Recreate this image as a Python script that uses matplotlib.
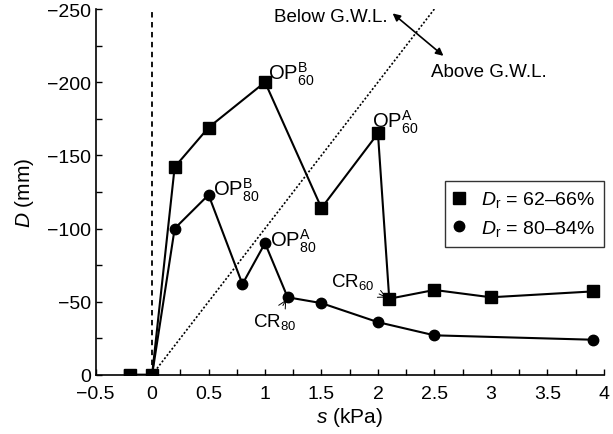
import numpy as np
import matplotlib.pyplot as plt
from matplotlib.ticker import MultipleLocator

plt.rcParams['font.family'] = ['Liberation Sans', 'DejaVu Sans']
plt.rcParams['mathtext.fontset'] = 'custom'
plt.rcParams['mathtext.rm'] = 'Liberation Sans'
plt.rcParams['mathtext.it'] = 'Liberation Sans:italic'

# Dr = 62-66 %
s_60 = [-0.2, 0.0, 0.2, 0.5, 1.0, 1.5, 2.0, 2.1, 2.5, 3.0, 3.9]
d_60 = [0, 0, -142, -169, -200, -114, -165, -52, -58, -53, -57]
# Dr = 80-84 %
s_80 = [-0.2, 0.0, 0.2, 0.5, 0.8, 1.0, 1.2, 1.5, 2.0, 2.5, 3.9]
d_80 = [0, 0, -100, -123, -62, -90, -53, -49, -36, -27, -24]
# G.W.L. boundary line
gwl_s = [0.0, 2.5]
gwl_d = [0, -250]

fig = plt.figure(figsize=(6.13, 4.35), dpi=100)
ax = fig.add_axes([0.156, 0.136, 0.829, 0.841])

ax.plot([0, 0], [0, -250], color='black', ls=(0, (3, 2.5)), lw=1.3)
ax.plot(gwl_s, gwl_d, color='black', ls=(0, (1.2, 1.2)), lw=1.2)

ax.plot(s_60, d_60, '-s', color='black', lw=1.5, ms=9, label=r'$D_{\mathrm{r}}$ = 62–66%')
ax.plot(s_80, d_80, '-o', color='black', lw=1.5, ms=7.5, label=r'$D_{\mathrm{r}}$ = 80–84%')

ax.set_xlim(-0.5, 4)
ax.set_ylim(0, -250)
ax.xaxis.set_minor_locator(MultipleLocator(0.25))
ax.yaxis.set_minor_locator(MultipleLocator(25))
ax.set_xticks(np.arange(-0.5, 4.01, 0.5))
ax.set_xticklabels(['−0.5', '0', '0.5', '1', '1.5', '2', '2.5', '3', '3.5', '4'])
ax.set_yticks([0, -50, -100, -150, -200, -250])
ax.set_yticklabels(['0', '−50', '−100', '−150', '−200', '−250'])
ax.tick_params(which='both', direction='in', labelsize=14, width=1, length=4)
ax.tick_params(axis='x', pad=7.5)
ax.tick_params(axis='y', pad=3.5)
ax.spines['top'].set_visible(False)
ax.spines['right'].set_visible(False)
ax.spines['left'].set_linewidth(1.2)
ax.spines['bottom'].set_linewidth(1.2)

ax.set_xlabel(r'$s$ (kPa)', fontsize=15, labelpad=2)
ax.set_ylabel(r'$D$ (mm)', fontsize=15, labelpad=8)

lbl = dict(fontsize=14.5, va='center', ha='left')
ax.text(1.03, -206, r'OP$_{60}^{\mathrm{B}}$', **lbl)
ax.text(0.54, -127, r'OP$_{80}^{\mathrm{B}}$', **lbl)
ax.text(1.95, -173, r'OP$_{60}^{\mathrm{A}}$', **lbl)
ax.text(1.04, -92, r'OP$_{80}^{\mathrm{A}}$', **lbl)

ax.annotate(r'CR$_{60}$', xy=(2.1, -52), xytext=(1.58, -64), fontsize=13.5,
            va='center', arrowprops=dict(arrowstyle='->', lw=0.7, color='black'))
ax.annotate(r'CR$_{80}$', xy=(1.2, -53), xytext=(0.89, -37), fontsize=13.5,
            va='center', arrowprops=dict(arrowstyle='->', lw=0.7, color='black'))

ax.text(2.09, -245, 'Below G.W.L.', fontsize=13.5, ha='right', va='center')
ax.text(2.47, -207, 'Above G.W.L.', fontsize=13.5, ha='left', va='center')
ax.annotate('', xy=(2.13, -247), xytext=(2.58, -218),
            arrowprops=dict(arrowstyle='<|-|>', lw=1.2, color='black',
                            mutation_scale=11, shrinkA=0, shrinkB=0))

leg = ax.legend(loc='center right', bbox_to_anchor=(1.0, 0.44), fontsize=14,
                frameon=True, fancybox=False, edgecolor='black',
                handlelength=0.6, handletextpad=0.8, borderpad=0.45,
                labelspacing=0.45, borderaxespad=0.0)
leg.get_frame().set_linewidth(1.0)
for h in leg.legend_handles:
    h.set_linestyle('none')

fig.savefig('out.png', dpi=100)
